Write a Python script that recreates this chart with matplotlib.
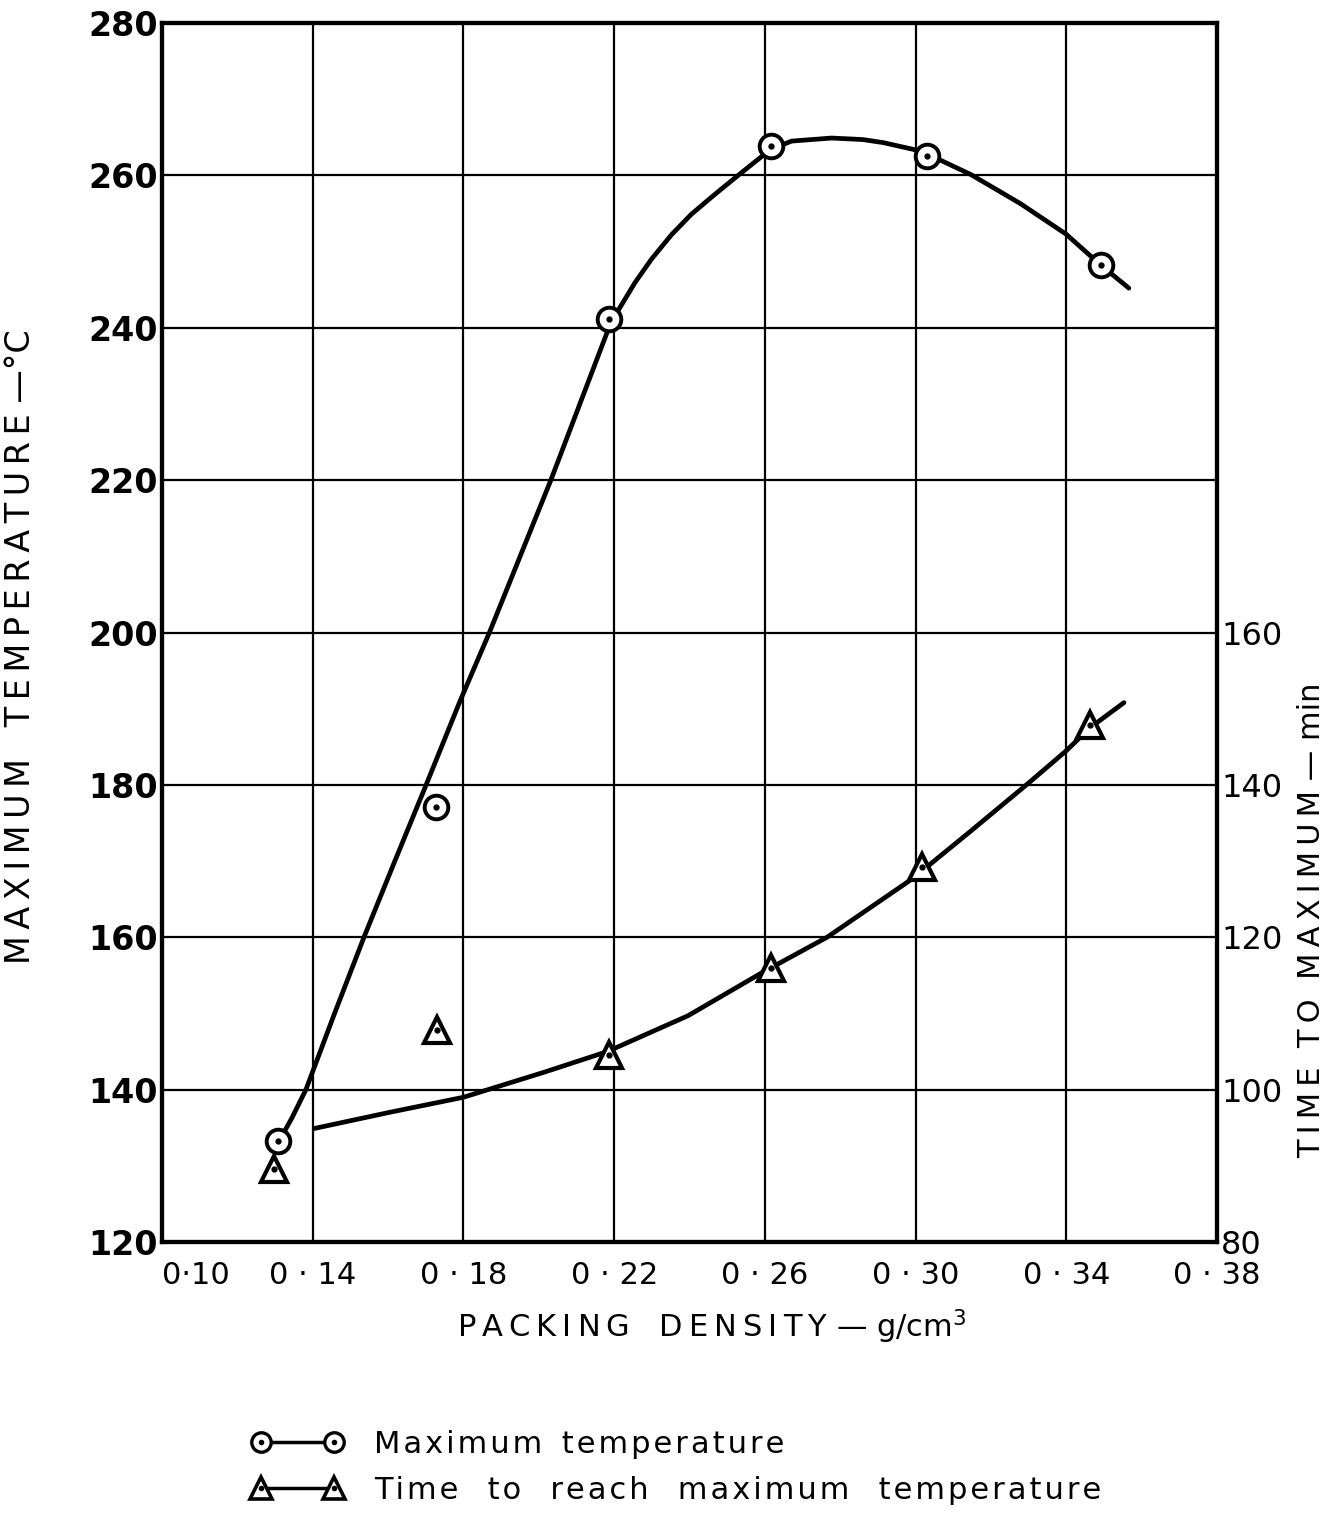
import matplotlib
matplotlib.use("Agg")
import matplotlib.pyplot as plt
from matplotlib.lines import Line2D
from matplotlib.legend_handler import HandlerTuple

# ---------------- data ----------------
density_ticks = [0.10, 0.14, 0.18, 0.22, 0.26, 0.30, 0.34, 0.38]
density_tick_labels = ["0·10", "0 · 14", "0 · 18", "0 · 22", "0 · 26", "0 · 30", "0 · 34", "0 · 38"]
temp_ticks = [120, 140, 160, 180, 200, 220, 240, 260, 280]
time_ticks = [80, 100, 120, 140, 160]

# measured points: maximum temperature (degC)
temp_x = [0.1308, 0.1727, 0.2186, 0.2615, 0.3030, 0.3493]
temp_y = [133.2, 177.1, 241.1, 263.9, 262.5, 248.2]

# measured points: time to reach maximum (min)
time_x = [0.1297, 0.1730, 0.2186, 0.2615, 0.3017, 0.3463]
time_y = [89.6, 107.8, 104.6, 116.0, 129.2, 147.8]

# hand-drawn fitted curves
temp_curve_x = [0.1308, 0.1345, 0.1382, 0.1458, 0.1536, 0.1618, 0.1701, 0.1791,
                0.1869, 0.2032, 0.2186, 0.2211, 0.2255, 0.2299, 0.2352, 0.2405,
                0.2467, 0.2529, 0.2582, 0.2615, 0.2671, 0.2777, 0.2860, 0.2914,
                0.2995, 0.3070, 0.3147, 0.3278, 0.3399, 0.3492, 0.3566]
temp_curve_y = [133.0, 136.3, 140.0, 150.0, 160.0, 170.0, 180.0, 191.0,
                200.0, 220.0, 240.0, 242.3, 245.9, 249.0, 252.2, 254.9,
                257.5, 260.0, 262.1, 263.4, 264.5, 264.9, 264.7, 264.3,
                263.4, 261.9, 260.1, 256.3, 252.3, 248.2, 245.2]

time_curve_x = [0.1404, 0.1602, 0.1800, 0.2015, 0.2182, 0.2396, 0.2594, 0.2765,
                0.2992, 0.3143, 0.3294, 0.3398, 0.3463, 0.3553]
time_curve_y = [94.9, 97.0, 99.0, 102.3, 105.0, 109.7, 115.4, 120.0,
                127.7, 133.8, 140.0, 144.4, 147.5, 150.8]

THIN = "\u2009"
HAIR = "\u200a"


def spaced(s, sep):
    return sep.join(list(s))


# ---------------- figure ----------------
plt.rcParams['font.family'] = ['DejaVu Sans']
fig = plt.figure(figsize=(13.32, 15.13), dpi=100)
ax = fig.add_axes([0.1216, 0.1791, 0.7921, 0.8057])

ax.set_xlim(0.10, 0.38)
ax.set_ylim(120, 280)
ax.set_xticks(density_ticks)
ax.set_xticklabels(density_tick_labels, fontsize=22)
ax.set_yticks(temp_ticks)
ax.set_yticklabels([str(t) for t in temp_ticks], fontsize=24, fontweight='bold')
ax.tick_params(axis='both', length=0)
ax.tick_params(axis='y', pad=3)
ax.tick_params(axis='x', pad=14)
ax.xaxis.get_ticklabels()[0].set_horizontalalignment('left')
ax.grid(True, color='black', linewidth=1.6)
for sp in ax.spines.values():
    sp.set_linewidth(3.0)

ax2 = ax.twinx()
ax2.set_ylim(80, 240)
ax2.set_yticks(time_ticks)
ax2.set_yticklabels([str(t) for t in time_ticks], fontsize=23)
ax2.tick_params(axis='y', length=0, pad=3)
for sp in ax2.spines.values():
    sp.set_linewidth(3.0)

lw = 3.4
# temperature curve and points
ax.plot(temp_curve_x, temp_curve_y, color='black', lw=lw,
        solid_capstyle='round', solid_joinstyle='round', zorder=3)
ax.plot(temp_x, temp_y, linestyle='none', marker='o', markersize=17,
        markerfacecolor='white', markeredgecolor='black', markeredgewidth=2.8, zorder=4)
ax.plot(temp_x, temp_y, linestyle='none', marker='o', markersize=3.5,
        color='black', zorder=5)

# time curve and points
ax2.plot(time_curve_x, time_curve_y, color='black', lw=lw,
         solid_capstyle='round', solid_joinstyle='round', zorder=3)
ax2.plot(time_x, time_y, linestyle='none', marker='^', markersize=19,
         markerfacecolor='white', markeredgecolor='black', markeredgewidth=3.0, zorder=4)
ax2.plot(time_x, time_y, linestyle='none', marker='o', markersize=3.5,
         color='black', zorder=5)

# axis labels
xlab = spaced("PACKING", THIN) + "   " + spaced("DENSITY", THIN) + " — g/cm$^{3}$"
ax.set_xlabel(xlab, fontsize=22)
ax.xaxis.set_label_coords(0.521, -0.054)
ylab = spaced("MAXIMUM", THIN) + "   " + spaced("TEMPERATURE", THIN) + " —°C"
ax.set_ylabel(ylab, fontsize=24)
ax.yaxis.set_label_coords(-0.118, 0.488)
rlab = spaced("TIME", THIN) + "  " + spaced("TO", THIN) + "  " + spaced("MAXIMUM", THIN) + " — min"
ax2.set_ylabel(rlab, fontsize=22)
ax2.yaxis.set_label_coords(1.076, 0.264)

# legend below
h1 = (Line2D([], [], color='black', lw=2.5, marker='o', markersize=14,
             markerfacecolor='white', markeredgecolor='black', markeredgewidth=2.4),
      Line2D([], [], linestyle='none', marker='o', markersize=3, color='black'))
h2 = (Line2D([], [], color='black', lw=2.5, marker='^', markersize=16,
             markerfacecolor='white', markeredgecolor='black', markeredgewidth=2.6),
      Line2D([], [], linestyle='none', marker='o', markersize=3, color='black'))
leg1 = spaced("Maximum", HAIR) + "  " + spaced("temperature", HAIR)
leg2 = "   ".join(spaced(w, HAIR) for w in ["Time", "to", "reach", "maximum", "temperature"])
fig.legend([h1, h2], [leg1, leg2],
           handler_map={tuple: HandlerTuple(ndivide=1)}, numpoints=2,
           loc='upper left', bbox_to_anchor=(0.180, 0.063), frameon=False,
           fontsize=22, handlelength=3.0, handletextpad=1.0, labelspacing=0.55,
           borderaxespad=0.0)

fig.savefig("out.png", dpi=100, facecolor='white')
